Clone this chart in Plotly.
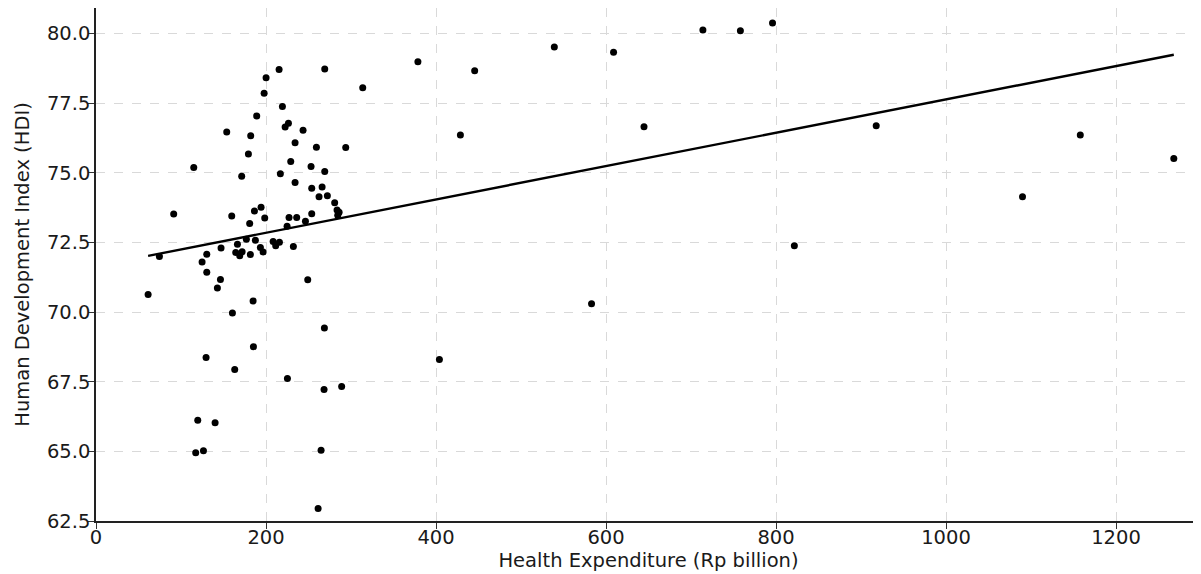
import plotly.graph_objects as go

health_expenditure = [
    61.3, 74.6, 91.4, 115.0, 117.3, 119.7, 124.8, 126.4, 129.5, 130.3,
    130.3, 140.1, 142.8, 146.4, 147.1, 153.8, 159.7, 160.5, 163.2, 164.4,
    166.4, 169.1, 171.4, 171.9, 176.9, 179.3, 180.8, 181.6, 182.0, 184.8,
    185.2, 186.4, 187.5, 189.1, 193.4, 194.2, 196.6, 197.8, 198.5, 200.1,
    208.4, 211.4, 215.4, 215.8, 216.9, 219.3, 222.5, 224.8, 225.2, 226.4,
    227.1, 229.1, 232.2, 234.2, 234.2, 236.1, 243.6, 246.4, 249.1, 253.0,
    253.8, 253.8, 259.3, 261.3, 262.4, 264.8, 266.0, 268.3, 268.7, 269.1,
    269.1, 272.2, 280.8, 283.6, 284.4, 286.0, 289.0, 293.8, 313.8, 378.7,
    404.0, 428.7, 445.5, 539.2, 583.0, 608.9, 644.7, 714.0, 758.1, 795.9,
    821.6, 917.9, 1090.0, 1158.0, 1268.0,
]
hdi = [
    70.63, 72.00, 73.52, 75.19, 64.95, 66.12, 71.80, 65.02, 68.37, 72.08,
    71.43, 66.03, 70.87, 71.17, 72.30, 76.47, 73.45, 69.97, 67.94, 72.14,
    72.44, 72.02, 74.88, 72.17, 72.62, 75.68, 73.18, 72.07, 76.33, 70.40,
    68.76, 73.63, 72.58, 77.04, 72.32, 73.77, 72.16, 77.86, 73.38, 78.42,
    72.54, 72.38, 78.71, 72.51, 74.97, 77.38, 76.65, 73.08, 67.62, 76.78,
    73.40, 75.41, 72.36, 76.08, 74.65, 73.40, 76.53, 73.26, 71.16, 75.23,
    74.45, 73.53, 75.92, 62.95, 74.14, 65.04, 74.49, 67.22, 69.43, 75.05,
    78.73, 74.18, 73.93, 73.67, 73.48, 73.59, 67.33, 75.91, 78.06, 78.99,
    68.30, 76.36, 78.67, 79.52, 70.30, 79.33, 76.66, 80.13, 80.10, 80.38,
    72.38, 76.69, 74.14, 76.36, 75.52,
]

trend_x = [61.3, 1268.0]
trend_y = [72.02, 79.24]

x_ticks = [0, 200, 400, 600, 800, 1000, 1200]
y_ticks = [62.5, 65.0, 67.5, 70.0, 72.5, 75.0, 77.5, 80.0]

FONT = "DejaVu Sans"
FS = 19.5

fig = go.Figure()
fig.add_trace(go.Scatter(
    x=health_expenditure, y=hdi, mode="markers",
    marker=dict(size=7, color="black", line=dict(width=0)),
    showlegend=False, hoverinfo="x+y",
))
fig.add_trace(go.Scatter(
    x=trend_x, y=trend_y, mode="lines",
    line=dict(color="black", width=2.4),
    showlegend=False, hoverinfo="skip",
))

axis_common = dict(
    showline=True, linecolor="#222222", linewidth=1.5,
    ticks="outside", ticklen=6, tickwidth=1.2, tickcolor="#333333",
    showgrid=True, gridcolor="#d9d9d9", griddash="dash", gridwidth=1,
    zeroline=False, mirror=False,
    tickfont=dict(family=FONT, size=FS, color="#1a1a1a"),
)

fig.update_layout(
    width=1193, height=566,
    margin=dict(l=88, r=0, t=0, b=53),
    paper_bgcolor="white", plot_bgcolor="white",
    font=dict(family=FONT, color="#1a1a1a"),
    xaxis=dict(
        range=[0, 1300], tickvals=x_ticks, ticktext=[str(v) for v in x_ticks],
        ticklabelstandoff=-8,
        title=dict(text="Health Expenditure (Rp billion)",
                   font=dict(family=FONT, size=FS, color="#1a1a1a"), standoff=2),
        automargin=False,
        **axis_common,
    ),
    yaxis=dict(
        range=[62.5, 80.92], tickvals=y_ticks,
        ticktext=[f"{v:.1f}" for v in y_ticks],
        ticklabelstandoff=-6,
        title=dict(text="Human Development Index (HDI)",
                   font=dict(family=FONT, size=FS, color="#1a1a1a"), standoff=12),
        automargin=False,
        **axis_common,
    ),
)

fig.write_html("out.html")
